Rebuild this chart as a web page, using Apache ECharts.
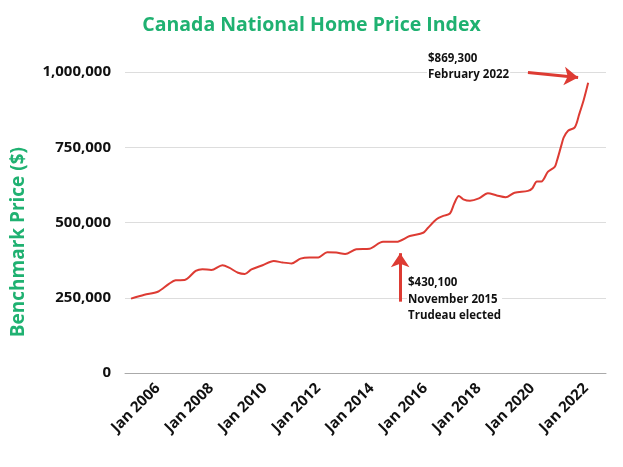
<!DOCTYPE html>
<html>
<head>
<meta charset="utf-8">
<script src="https://cdn.jsdelivr.net/npm/echarts@6/dist/echarts.min.js"></script>
<style>
html,body{margin:0;padding:0;background:#fff;}
#chart{width:623px;height:467px;}
</style>
</head>
<body>
<div id="chart"></div>
<script>
// Months (YYYY-MM) and benchmark prices
const months = [
  '2005-01','2005-07','2006-01','2006-06','2006-09','2007-01','2007-06','2007-09',
  '2008-01','2008-06','2008-09','2009-01','2009-04','2009-07','2009-12','2010-05',
  '2010-09','2011-01','2011-05','2011-09','2012-01','2012-05','2012-09','2013-01',
  '2013-06','2013-12','2014-06','2014-12','2015-06','2015-12','2016-02','2016-06',
  '2016-09','2016-12','2017-02','2017-04','2017-06','2017-09','2018-01','2018-05',
  '2018-09','2019-01','2019-05','2019-11','2020-01','2020-03','2020-05','2020-08',
  '2020-11','2020-12','2021-02','2021-03','2021-05','2021-08','2021-10','2021-12',
  '2022-02'
];
const prices = [
  247000,260000,270000,296000,308000,309000,339000,345000,
  342000,358000,350000,333000,329000,344000,358000,372000,
  367000,364000,380000,384000,384000,401000,400000,395000,
  411000,413000,436000,436000,455000,466000,481000,511000,
  522000,530000,564000,588000,577000,572000,580000,597000,
  590000,584000,599000,605000,614000,636000,636000,669000,
  685000,705000,757000,782000,805000,816000,860000,907000,
  964000
];
const xTickMonths = ['2006-01','2008-01','2010-01','2012-01','2014-01','2016-01','2018-01','2020-01','2022-01'];
const yTicks = [0, 250000, 500000, 750000, 1000000];

const BASE_YEAR = 2005;
function mIdx(s){ const [y,m] = s.split('-').map(Number); return (y-BASE_YEAR)*12 + (m-1); }
const MON = ['Jan','Feb','Mar','Apr','May','Jun','Jul','Aug','Sep','Oct','Nov','Dec'];
function mLabel(v){ const y = BASE_YEAR + Math.floor(v/12); return MON[((v%12)+12)%12] + ' ' + y; }

const seriesData = months.map((m,i)=>[mIdx(m), prices[i]]);
const RED = '#dd3b33';
const GREEN = '#1fb171';
const FONT = '"Open Sans", sans-serif';

const chart = echarts.init(document.getElementById('chart'), null, {renderer:'canvas'});
chart.setOption({
  animation:false,
  backgroundColor:'#fff',
  title:{
    text:'Canada National Home Price Index',
    left:'center', top:10,
    textStyle:{color:GREEN, fontFamily:FONT, fontWeight:'bold', fontSize:19.5}
  },
  grid:{left:125, right:17, top:72, bottom:94, containLabel:false},
  xAxis:{
    type:'value',
    min:-2.7, max:213,
    splitLine:{show:false},
    axisTick:{show:false},
    axisLine:{show:true, lineStyle:{color:'#aaaaaa', width:1}},
    axisLabel:{
      customValues: xTickMonths.map(mIdx),
      rotate:45, margin:13,
      color:'#111', fontFamily:FONT, fontWeight:'bold', fontSize:15,
      formatter:(v)=>mLabel(Math.round(v))
    }
  },
  yAxis:{
    type:'value',
    min:yTicks[0], max:yTicks[yTicks.length-1], interval:yTicks[1]-yTicks[0],
    axisLine:{show:false}, axisTick:{show:false},
    splitLine:{lineStyle:{color:'#dddddd', width:1}},
    axisLabel:{
      margin:14, color:'#111', fontFamily:FONT, fontWeight:'bold', fontSize:15,
      formatter:(v)=> v.toLocaleString('en-US')
    }
  },
  graphic:[
    {type:'text', left:9, top:147, rotation:Math.PI/2,
     style:{text:'Benchmark Price ($)', fill:GREEN, font:'bold 19px "Open Sans", sans-serif'}},
    {type:'text', left:427, top:51, z:10,
     style:{text:'$869,300\nFebruary 2022', fill:'#111', font:'bold 11.5px "Open Sans", sans-serif', lineHeight:16,
            backgroundColor:'#fff', padding:[0,1,0,1]}},
    {type:'text', left:407, top:275, z:10,
     style:{text:'$430,100\nNovember 2015\nTrudeau elected', fill:'#111', font:'bold 11.5px "Open Sans", sans-serif', lineHeight:16.3,
            backgroundColor:'#fff', padding:[0,1,0,1]}}
  ],
  series:[{
    type:'line',
    data:seriesData,
    smooth:0.3,
    showSymbol:false,
    lineStyle:{color:RED, width:2},
    itemStyle:{color:RED},
    markLine:{
      silent:true,
      symbol:['none','arrow'],
      symbolSize:[14,14],
      label:{show:false},
      lineStyle:{color:RED, width:3, type:'solid'},
      data:[
        [{coord:[178, 998000]},{coord:[200.5, 982000]}],
        [{coord:[120.7, 237000]},{coord:[120.7, 398000]}]
      ]
    }
  }]
});
</script>
</body>
</html>
